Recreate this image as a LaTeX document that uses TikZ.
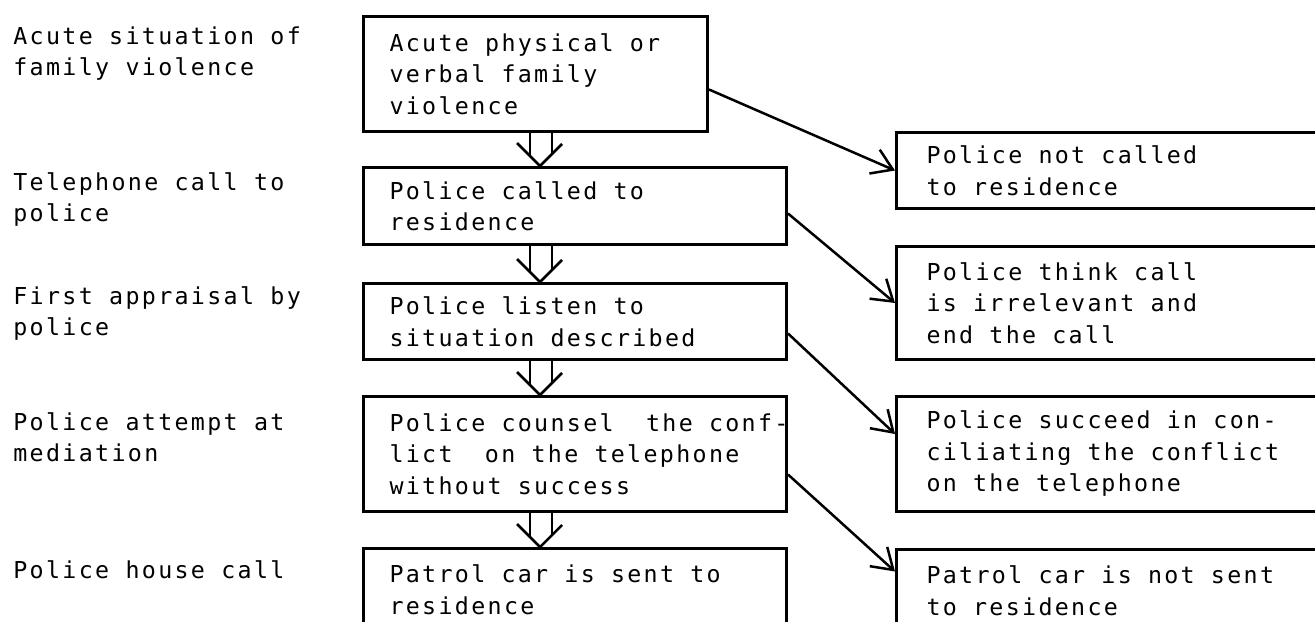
\documentclass[tikz,border=0pt]{standalone}
\usepackage{fontspec}
\newfontfamily\typewr[LetterSpace=10]{DejaVu Sans Mono}
\usepackage{tikz}
\usetikzlibrary{positioning}
\usetikzlibrary{calc}
\usetikzlibrary{arrows.meta}
\newcommand{\boxfont}{\typewr\fontsize{11.65}{15.75}\selectfont}
\tikzset{box/.style={draw, line width=1.5pt, anchor=north west, inner xsep=13pt, inner ysep=0pt, align=left, font=\boxfont, execute at begin node={\spaceskip=8.1pt\hyphenpenalty=10000\relax}}}
\tikzset{lbl/.style={anchor=north west, inner sep=0pt, align=left, font=\boxfont}}
\tikzset{link/.style={line width=1.25pt, -{Straight Barb[length=10pt,width=13pt]}}}

\begin{document}
\begin{tikzpicture}[x=0.5pt,y=-0.5pt]
\useasboundingbox (0,0) rectangle (1315,621);
% stages
\node[lbl] (l1) at (13,26) {Acute situation of\\family violence};
\node[lbl] (l2) at (13,172) {Telephone call to\\police};
\node[lbl] (l3) at (13,286) {First appraisal by\\police};
\node[lbl] (l4) at (13,412) {Police attempt at\\mediation};
\node[lbl] (l5) at (13,560) {Police house call};
% main chain
\node[box, minimum width=172pt, minimum height=57.5pt, text width=146pt] (b1) at (362,15) {Acute physical or\\verbal family\\violence};
\node[box, minimum width=211.5pt, minimum height=38.5pt, text width=185.5pt] (b2) at (362,166) {Police called to\\residence};
\node[box, minimum width=211.5pt, minimum height=38pt, text width=185.5pt] (b3) at (362,282) {Police listen to\\situation described};
\node[box, minimum width=211.5pt, minimum height=57.5pt, text width=185.5pt] (b4) at (362,395) {\mbox{Police counsel~ the conf-}\\lict~ on the telephone\\without success};
\node[box, minimum width=211.5pt, minimum height=41pt, text width=185.5pt] (b5) at (362,547) {Patrol car is sent to\\residence};
% outcomes
\node[box, inner xsep=15pt, minimum width=217.5pt, minimum height=38pt, text width=187.5pt] (r1) at (895,131) {Police not called\\to residence};
\node[box, inner xsep=15pt, minimum width=217.5pt, minimum height=56.5pt, text width=187.5pt] (r2) at (895,245) {Police think call\\is irrelevant and\\end the call};
\node[box, inner xsep=15pt, minimum width=217.5pt, minimum height=57.5pt, text width=187.5pt] (r3) at (895,395) {Police succeed in con-\\ciliating the conflict\\on the telephone};
\node[box, inner xsep=15pt, minimum width=217.5pt, minimum height=41pt, text width=187.5pt] (r4) at (895,548) {Patrol car is not sent\\to residence};
\coordinate (dl) at (530,0);
\coordinate (dm) at (540,0);
\coordinate (dr) at (552,0);
\foreach \a/\b in {b1/b2,b2/b3,b3/b4,b4/b5} {
\draw[line width=1.25pt] (dl |- \a.south) -- ($(dl |- \b.north)+(0,-10)$);
\draw[line width=1.25pt] (dr |- \a.south) -- ($(dr |- \b.north)+(0,-12)$);
\draw[line width=1.25pt] ($(dm |- \b.north)+(-23,-23)$) -- (dm |- \b.north) -- ($(dm |- \b.north)+(22,-22)$);
}
\draw[link] ([yshift=-7.75pt]b1.east) -- (r1.west);
\draw[link] ([yshift=-3.75pt]b2.east) -- (r2.west);
\draw[link] ([yshift=-6pt]b3.east) -- ([yshift=10pt]r3.west);
\draw[link] ([yshift=-10.25pt]b4.east) -- ([yshift=9.5pt]r4.west);
\end{tikzpicture}
\end{document}
